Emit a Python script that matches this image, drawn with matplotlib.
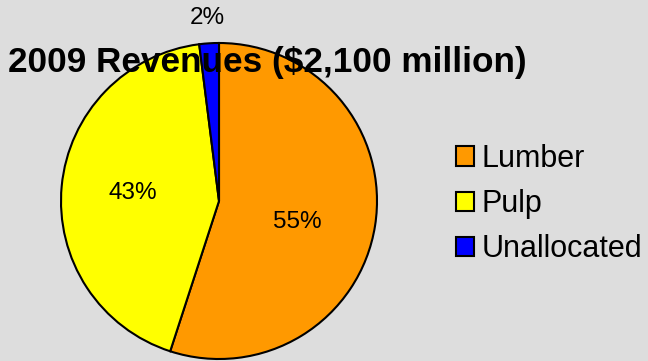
import numpy as np
import matplotlib.pyplot as plt
from matplotlib.patches import Patch

# segment data
segments = ['Lumber', 'Pulp', 'Unallocated']
shares = [55, 43, 2]
colors = ['#FF9900', '#FFFF00', '#0000FF']
label_dist = [0.51, 0.55, 1.16]
label_turn = [-6, 0, 0]

title = '2009 Revenues ($2,100 million)'
bg = '#DDDDDD'

plt.rcParams['font.family'] = ['Liberation Sans', 'DejaVu Sans']

fig = plt.figure(figsize=(6.48, 3.61), dpi=100, facecolor=bg)
# axes in pixel units so the pie sits where we want it
ax = fig.add_axes([0, 0, 1, 1])
ax.set_aspect('equal')

cx, cy, r = 219, 160, 158
wedges, _ = ax.pie(shares, colors=colors, startangle=90, counterclock=False,
                   center=(cx, cy), radius=r, frame=True,
                   wedgeprops=dict(edgecolor='black', linewidth=1.5))
ax.set_xlim(0, 648)
ax.set_ylim(0, 361)
ax.axis('off')

for w, v, d, t in zip(wedges, shares, label_dist, label_turn):
    mid = np.deg2rad((w.theta1 + w.theta2) / 2 + t)
    ax.text(cx + d * r * np.cos(mid), cy + d * r * np.sin(mid), f'{v}%',
            ha='center', va='center', fontsize=17.5)

fig.text(8 / 648, 289 / 361, title, ha='left', va='baseline',
         fontsize=25.3, fontweight='bold')

handles = [Patch(facecolor=c, edgecolor='black', linewidth=1.5) for c in colors]
fig.legend(handles, segments, loc='center left',
           bbox_to_anchor=(456 / 648, 157 / 361), frameon=False,
           fontsize=22, handlelength=0.6, handleheight=0.6,
           handletextpad=0.25, labelspacing=0.5, borderpad=0, borderaxespad=0)

fig.savefig('out.png', dpi=100, facecolor=bg)
